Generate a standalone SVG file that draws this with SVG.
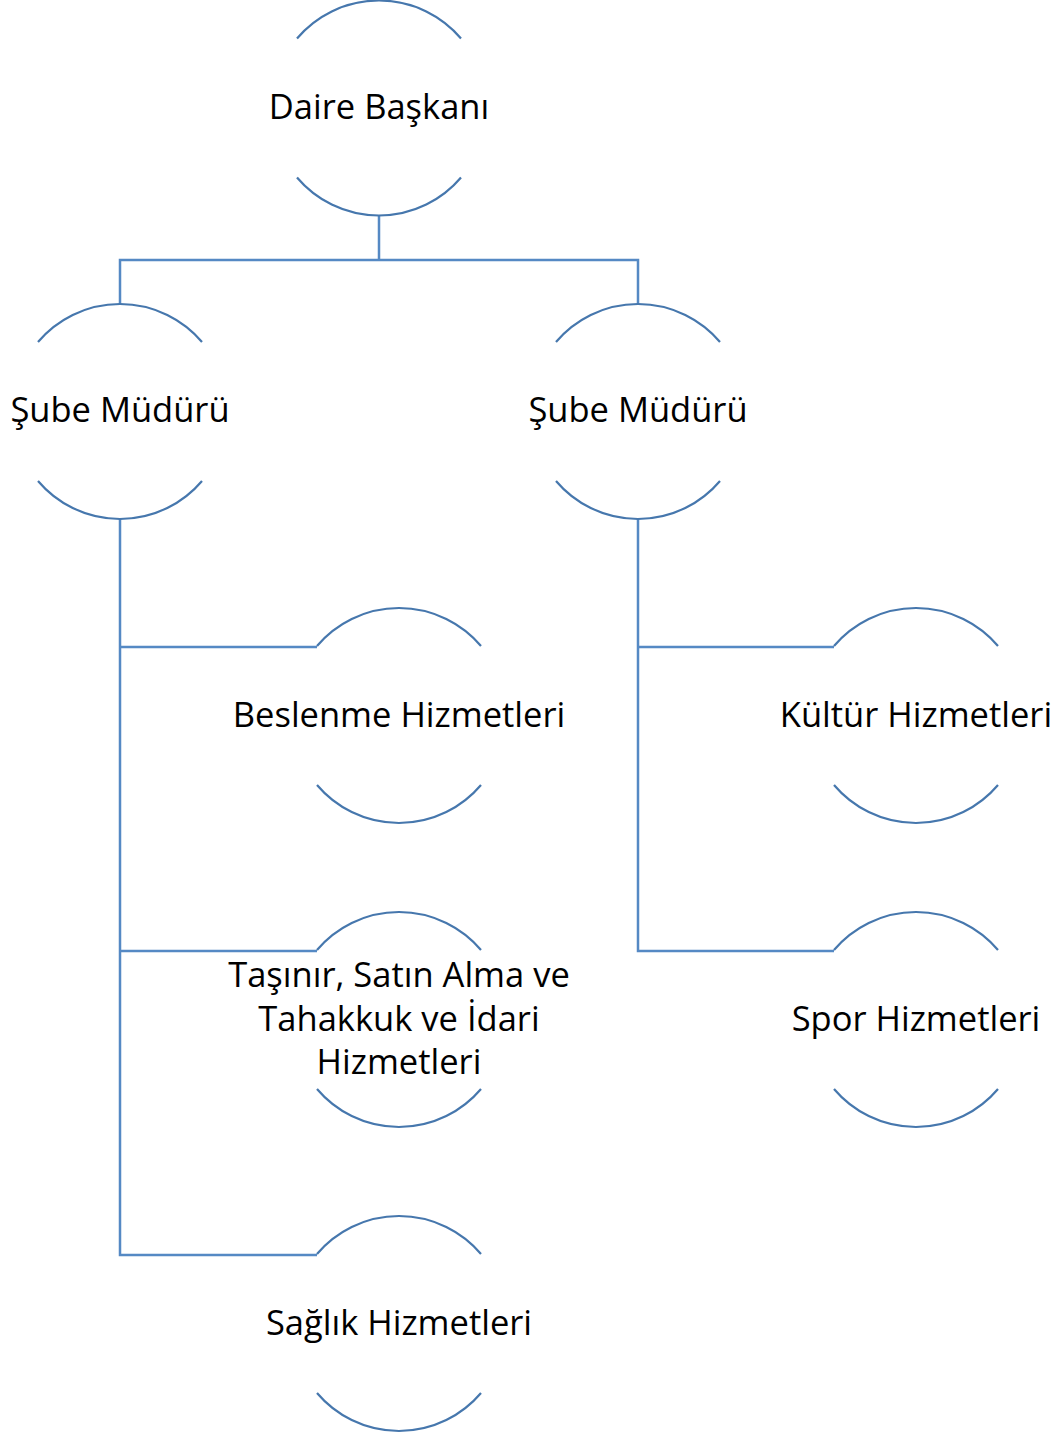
<svg xmlns="http://www.w3.org/2000/svg" xmlns:xlink="http://www.w3.org/1999/xlink" width="1059" height="1436" viewBox="0 0 1059 1436">
  <style>
    .arc { fill: none; stroke: #4677ad; stroke-width: 2.2; }
    .conn { fill: none; stroke: #5589c4; stroke-width: 2.5; }
    .lbl { font-family: "Open Sans", "Noto Sans", "DejaVu Sans", sans-serif; font-size: 34.5px; fill: #000; text-anchor: middle; }
  </style>
  <defs>
    <g id="ring">
      <path class="arc" d="M -82 -69.5 A 107.5 107.5 0 0 1 82 -69.5"/>
      <path class="arc" d="M -82 69.5 A 107.5 107.5 0 0 0 82 69.5"/>
    </g>
  </defs>
  <rect width="1059" height="1436" fill="#fff"/>
  <g id="connectors">
    <path class="conn" d="M 379 215 V 260 M 120 304 V 260 H 638 V 304"/>
    <path class="conn" d="M 120 519 V 1255 H 317 M 120 647 H 317 M 120 951 H 317"/>
    <path class="conn" d="M 638 519 V 951 H 834 M 638 647 H 834"/>
  </g>
  <g id="daire-baskani">
    <use xlink:href="#ring" href="#ring" x="379" y="108"/>
    <text class="lbl" x="379" y="119">Daire Başkanı</text>
  </g>
  <g id="sube-muduru-1">
    <use xlink:href="#ring" href="#ring" x="120" y="411.5"/>
    <text class="lbl" x="120" y="422">Şube Müdürü</text>
  </g>
  <g id="sube-muduru-2">
    <use xlink:href="#ring" href="#ring" x="638" y="411.5"/>
    <text class="lbl" x="638" y="422">Şube Müdürü</text>
  </g>
  <g id="beslenme">
    <use xlink:href="#ring" href="#ring" x="399" y="715.5"/>
    <text class="lbl" x="399" y="727">Beslenme Hizmetleri</text>
  </g>
  <g id="tasinir">
    <use xlink:href="#ring" href="#ring" x="399" y="1019.5"/>
    <text class="lbl" x="399" y="987">Taşınır, Satın Alma ve</text>
    <text class="lbl" x="399" y="1031">Tahakkuk ve İdari</text>
    <text class="lbl" x="399" y="1074">Hizmetleri</text>
  </g>
  <g id="saglik">
    <use xlink:href="#ring" href="#ring" x="399" y="1323.5"/>
    <text class="lbl" x="399" y="1335">Sağlık Hizmetleri</text>
  </g>
  <g id="kultur">
    <use xlink:href="#ring" href="#ring" x="916" y="715.5"/>
    <text class="lbl" x="916" y="727">Kültür Hizmetleri</text>
  </g>
  <g id="spor">
    <use xlink:href="#ring" href="#ring" x="916" y="1019.5"/>
    <text class="lbl" x="916" y="1031">Spor Hizmetleri</text>
  </g>
</svg>
